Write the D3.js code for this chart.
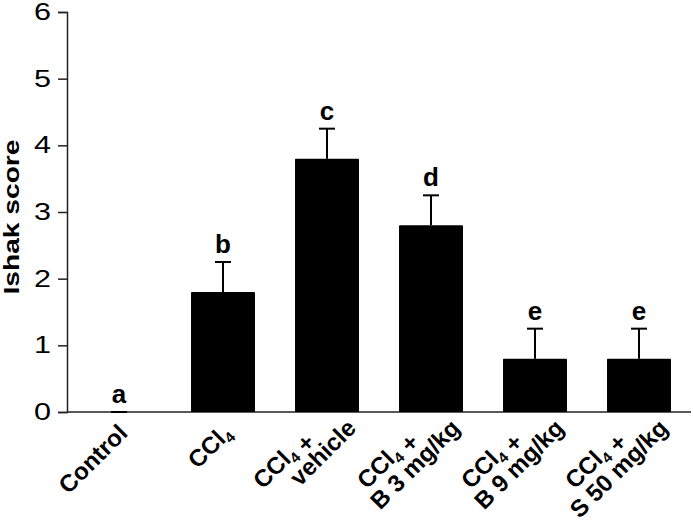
<!DOCTYPE html>
<html>
<head>
<meta charset="utf-8">
<script src="https://cdn.jsdelivr.net/npm/d3@7"></script>
<style>
  body { margin: 0; background: #fff; }
  svg { display: block; font-family: "Liberation Sans", Arial, sans-serif; }
</style>
</head>
<body>
<svg width="693" height="521"></svg>
<script>
// groups, with each label split into lines; "4" after "CCl" is a subscript
const groups = ["Control", "CCl4", "CCl4 + vehicle", "CCl4 + B3", "CCl4 + B9", "CCl4 + S50"];
const labelLines = [["Control"], ["CCl4"], ["CCl4 +", "vehicle"], ["CCl4 +", "B 3 mg/kg"], ["CCl4 +", "B 9 mg/kg"], ["CCl4 +", "S 50 mg/kg"]];
const means = [0, 1.8, 3.8, 2.8, 0.8, 0.8];
const errors = [0, 0.45, 0.45, 0.45, 0.45, 0.45];
const letters = ["a", "b", "c", "d", "e", "e"];
const yTicks = [0, 1, 2, 3, 4, 5, 6];

const svg = d3.select("svg");
const x0 = 67, x1 = 691, yBase = 412, yTop = 12;

const x = d3.scaleBand().domain(groups).range([x0, x1])
  .paddingInner(0.385).paddingOuter(0.1925);
const y = d3.scaleLinear().domain([0, 6]).range([yBase, yTop]);

// y axis
const yAxis = svg.append("g")
  .attr("transform", `translate(${x0},0)`)
  .call(d3.axisLeft(y).tickValues(yTicks).tickSize(9).tickPadding(7).tickFormat(d3.format("d")));
yAxis.select(".domain").attr("stroke", "#222").attr("stroke-width", 1.5);
yAxis.selectAll(".tick line").attr("stroke", "#222").attr("stroke-width", 1.5);
// the digits in the original are drawn wide
yAxis.selectAll(".tick text").attr("fill", "#000")
  .attr("font-size", 23).attr("font-family", "Liberation Sans, Arial, sans-serif")
  .attr("textLength", 17).attr("lengthAdjust", "spacingAndGlyphs");

// x axis line
svg.append("line")
  .attr("x1", x0).attr("x2", x1).attr("y1", yBase).attr("y2", yBase)
  .attr("stroke", "#222").attr("stroke-width", 1.5);

// bars
svg.selectAll(".bar")
  .data(groups)
  .enter()
  .append("rect")
  .attr("class", "bar")
  .attr("x", d => x(d))
  .attr("width", x.bandwidth())
  .attr("y", (d, i) => y(means[i]))
  .attr("height", (d, i) => y(0) - y(means[i]))
  .attr("rx", 1)
  .attr("fill", "#000");

// error bars (upper only) and letters
const cap = 8;
groups.forEach((g, i) => {
  const cx = x(g) + x.bandwidth() / 2;
  svg.append("line")
    .attr("x1", cx).attr("x2", cx)
    .attr("y1", y(means[i])).attr("y2", y(means[i] + errors[i]))
    .attr("stroke", "#000").attr("stroke-width", 2);
  svg.append("line")
    .attr("x1", cx - cap).attr("x2", cx + cap)
    .attr("y1", y(means[i] + errors[i])).attr("y2", y(means[i] + errors[i]))
    .attr("stroke", "#000").attr("stroke-width", 2);
  svg.append("text")
    .attr("x", cx).attr("y", y(means[i] + errors[i]) - 9)
    .attr("text-anchor", "middle")
    .attr("font-size", 26).attr("font-weight", "bold")
    .text(letters[i]);
});

// x labels, rotated 45 degrees
function addLine(sel, str) {
  const parts = str.split(/(CCl4)/).filter(s => s.length);
  parts.forEach(p => {
    if (p === "CCl4") {
      sel.append("tspan").text("CCl");
      sel.append("tspan").attr("font-size", 15).attr("dy", 5).text("4");
      sel.append("tspan").attr("dy", -5).text("");
    } else {
      sel.append("tspan").text(p);
    }
  });
}

function labelText(cx, lx, ly) {
  return svg.append("text")
    .attr("transform", `translate(${cx},${yBase}) rotate(-45) translate(${lx},${ly})`)
    .attr("text-anchor", "end")
    .attr("font-size", 24).attr("font-weight", "bold");
}

groups.forEach((g, i) => {
  const cx = x(g) + x.bandwidth() / 2;
  const lines = labelLines[i];
  if (lines.length === 1) {
    addLine(labelText(cx, -9, 23), lines[0]);
  } else {
    addLine(labelText(cx, -30, 10), lines[0]);
    addLine(labelText(cx, 9, 34), lines[1]);
  }
});

// y label
svg.append("text")
  .attr("transform", `translate(19,217) rotate(-90)`)
  .attr("text-anchor", "middle")
  .attr("font-size", 22).attr("font-weight", "bold")
  .attr("textLength", 155).attr("lengthAdjust", "spacingAndGlyphs")
  .text("Ishak score");
</script>
</body>
</html>
